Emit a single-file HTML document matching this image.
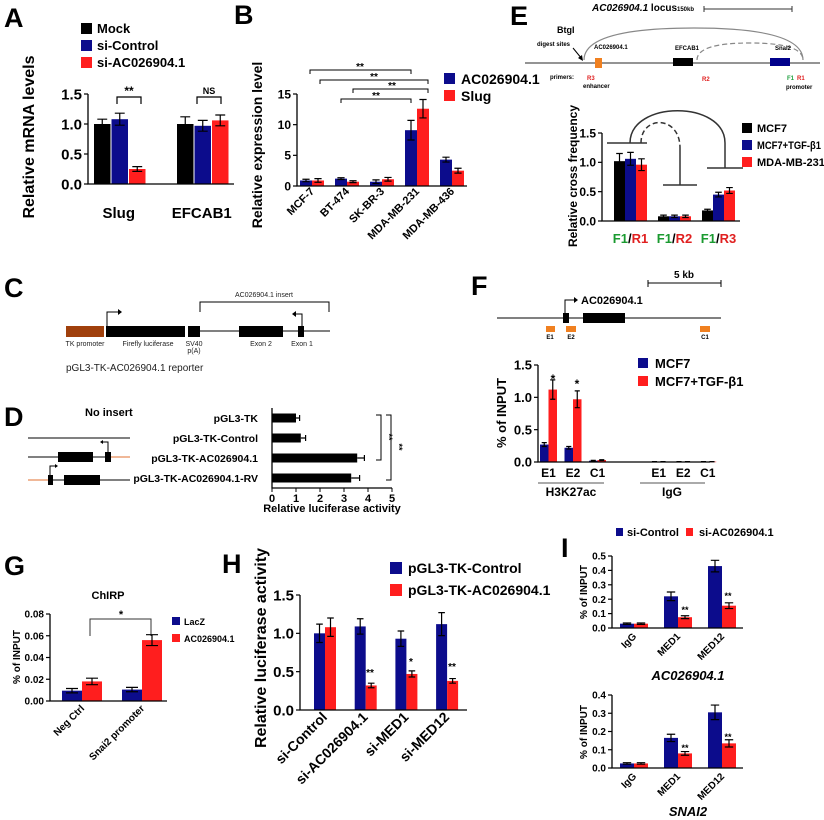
<!DOCTYPE html>
<html><head><meta charset="utf-8">
<style>
html,body{margin:0;padding:0;background:#fff;}
svg{display:block;font-family:"Liberation Sans",Arial,sans-serif;}
.b{font-weight:bold;}
</style></head>
<body>
<svg id="fig" width="824" height="820" viewBox="0 0 824 820" xmlns="http://www.w3.org/2000/svg">
<rect width="824" height="820" fill="#fff"/>
<!-- panel letters -->
<g class="b" font-size="27">
<text x="4" y="27">A</text>
<text x="234" y="24">B</text>
<text x="4" y="297">C</text>
<text x="4" y="426">D</text>
<text x="510" y="25">E</text>
<text x="471" y="295">F</text>
<text x="4" y="575">G</text>
<text x="222" y="573">H</text>
<text x="561" y="557">I</text>
</g>

<!-- A legend & annotations -->
<g class="b" font-size="13">
<rect x="81" y="23" width="11" height="11" fill="#000"/>
<text x="97" y="33">Mock</text>
<rect x="81" y="40" width="11" height="11" fill="#0c0c8c"/>
<text x="97" y="50">si-Control</text>
<rect x="81" y="57" width="11" height="11" fill="#ff1e1e"/>
<text x="97" y="67">si-AC026904.1</text>
</g>
<g stroke="#000" stroke-width="1.2" fill="none">
<path d="M117,104 V97 H141 V104"/><path d="M197,104 V97 H221 V104"/>
</g>
<text x="129" y="95" font-size="12" class="b" text-anchor="middle">**</text>
<text x="209" y="94" font-size="9" class="b" text-anchor="middle">NS</text>
<text transform="translate(34,137) rotate(-90)" font-size="16" class="b" text-anchor="middle">Relative mRNA levels</text>

<!-- B -->
<g stroke="#000" stroke-width="1" fill="none">
<path d="M310,74 V70 H411 V74"/><path d="M320,84 V80 H428 V84"/><path d="M353,93 V89 H428 V93"/><path d="M341,103 V99 H411 V103"/>
</g>
<g font-size="10" class="b" text-anchor="middle">
<text x="360" y="70">**</text><text x="374" y="80">**</text><text x="392" y="89">**</text><text x="376" y="99">**</text>
</g>
<text transform="translate(262,145) rotate(-90)" font-size="14" class="b" text-anchor="middle">Relative expression level</text>
<g class="b" font-size="14">
<rect x="444" y="73" width="11" height="11" fill="#0c0c8c"/>
<text x="461" y="84">AC026904.1</text>
<rect x="444" y="90" width="11" height="11" fill="#ff1e1e"/>
<text x="461" y="101">Slug</text>
</g>

<!-- C diagram -->
<g>
<line x1="200" y1="331" x2="330" y2="331" stroke="#000" stroke-width="1"/>
<rect x="66" y="326" width="38" height="11" fill="#a0400c"/>
<rect x="106" y="326" width="79" height="11" fill="#000"/>
<rect x="188" y="326" width="12" height="11" fill="#000"/>
<rect x="239" y="326" width="44" height="11" fill="#000"/>
<rect x="298" y="326" width="6" height="11" fill="#000"/>
<path d="M107,326 V312 H118" stroke="#000" fill="none"/><path d="M118,309 L122,312 L118,315Z"/>
<path d="M302,326 V314 H296" stroke="#000" fill="none"/><path d="M296,311 L292,314 L296,317Z"/>
<path d="M200,312 V302 H329 V312" stroke="#000" fill="none"/>
<g font-size="7" text-anchor="middle" fill="#222">
<text x="264" y="297">AC026904.1 insert</text>
<text x="85" y="346">TK promoter</text><text x="148" y="346">Firefly luciferase</text>
<text x="194" y="346">SV40</text><text x="194" y="353">p(A)</text>
<text x="261" y="346">Exon 2</text><text x="302" y="346">Exon 1</text>
</g>
<text x="66" y="371" font-size="10" fill="#222">pGL3-TK-AC026904.1 reporter</text>
</g>

<!-- D diagrams -->
<g>
<text x="85" y="416" font-size="11" class="b">No insert</text>
<line x1="28" y1="438" x2="130" y2="438" stroke="#000"/>
<line x1="28" y1="457" x2="110" y2="457" stroke="#000"/><line x1="110" y1="457" x2="130" y2="457" stroke="#e07030"/>
<rect x="58" y="452" width="35" height="10"/><rect x="105" y="452" width="6" height="10"/>
<path d="M108,452 V442 H103" stroke="#000" fill="none"/><path d="M103,440 L100,442 L103,444Z"/>
<line x1="28" y1="480" x2="48" y2="480" stroke="#e07030"/><line x1="48" y1="480" x2="130" y2="480" stroke="#000"/>
<rect x="48" y="475" width="5" height="10"/><rect x="64" y="475" width="36" height="10"/>
<path d="M50,475 V466 H55" stroke="#000" fill="none"/><path d="M55,464 L58,466 L55,468Z"/>
</g>
<g stroke="#000" fill="none">
<path d="M376,415 H381 V460 H376"/><path d="M386,415 H391 V480 H386"/>
</g>
<text transform="translate(386,437) rotate(90)" font-size="9" class="b" text-anchor="middle">**</text>
<text transform="translate(396,447) rotate(90)" font-size="9" class="b" text-anchor="middle">**</text>
<text x="332" y="512" font-size="11" class="b" text-anchor="middle">Relative luciferase activity</text>

<!-- E locus diagram -->
<g>
<text x="592" y="11" font-size="10" class="b"><tspan font-style="italic">AC026904.1</tspan> locus</text>
<text x="677" y="11" font-size="6" class="b">150kb</text>
<path d="M704,6 V12 M704,9 H792 M792,6 V12" stroke="#333" fill="none"/>
<text x="557" y="33" font-size="9" class="b">BtgI</text>
<text x="537" y="46" font-size="6" class="b">digest sites</text>
<path d="M573,48 L582,59" stroke="#000"/><path d="M583,61 L578,58 L582,55Z"/>
<line x1="525" y1="63" x2="820" y2="63" stroke="#555" stroke-width="1.3"/>
<path d="M584,60 Q584,28 694,28 Q803,28 803,60" stroke="#888" fill="none" stroke-width="1.2"/>
<path d="M697,60 Q697,43 750,43 Q803,43 803,60" stroke="#888" fill="none" stroke-width="1.2" stroke-dasharray="5,3"/>
<rect x="595" y="58" width="7" height="10" fill="#f08020"/>
<rect x="673" y="58" width="20" height="8" fill="#000"/>
<rect x="770" y="58" width="20" height="8" fill="#00008b"/>
<g font-size="6" class="b"><text x="594" y="49">AC026904.1</text><text x="675" y="50">EFCAB1</text><text x="775" y="50">Snai2</text>
<text x="550" y="79">primers:</text><text x="587" y="80" fill="#e02020">R3</text><text x="583" y="88">enhancer</text>
<text x="702" y="81" fill="#e02020">R2</text><text x="787" y="80" fill="#20a040">F1</text><text x="797" y="80" fill="#e02020">R1</text><text x="786" y="89">promoter</text></g>
</g>
<text transform="translate(577,176) rotate(-90)" font-size="12" class="b" text-anchor="middle">Relative cross frequency</text>
<g stroke="#333" stroke-width="1.5" fill="none">
<path d="M630,143 C630,100 725,100 725,143 V168"/>
<path d="M607,143 H647 M707,168 H743 M680,148 V185 M663,185 H697"/>
<path d="M641,143 C641,115 680,115 680,148" stroke-dasharray="5,3"/>
</g>
<g class="b" font-size="11">
<rect x="742" y="123" width="10" height="10" fill="#000"/><text x="757" y="132">MCF7</text>
<rect x="742" y="140" width="10" height="10" fill="#0c0c8c"/><text x="757" y="149" textLength="64" lengthAdjust="spacingAndGlyphs">MCF7+TGF-β1</text>
<rect x="742" y="157" width="10" height="10" fill="#ff1e1e"/><text x="757" y="166">MDA-MB-231</text>
</g>

<!-- F diagram -->
<g>
<path d="M648,280 V287 M648,283 H721 M721,280 V287" stroke="#000" fill="none"/>
<text x="684" y="278" font-size="10" class="b" text-anchor="middle">5 kb</text>
<line x1="497" y1="318" x2="721" y2="318" stroke="#000"/>
<rect x="563" y="313" width="6" height="10"/><rect x="583" y="313" width="42" height="10"/>
<path d="M565,313 V300 H574" stroke="#000" fill="none"/><path d="M574,297 L578,300 L574,303Z"/>
<text x="581" y="304" font-size="11" class="b">AC026904.1</text>
<rect x="546" y="326" width="9" height="6" fill="#f08020"/><rect x="566" y="326" width="10" height="6" fill="#f08020"/><rect x="700" y="326" width="10" height="6" fill="#f08020"/>
<g font-size="6" class="b" text-anchor="middle"><text x="550" y="339">E1</text><text x="571" y="339">E2</text><text x="705" y="339">C1</text></g>
</g>
<text transform="translate(506,413) rotate(-90)" font-size="13" class="b" text-anchor="middle">% of INPUT</text>
<g class="b">
<text x="553" y="383" font-size="12" text-anchor="middle">*</text><text x="577" y="388" font-size="12" text-anchor="middle">*</text>
<path d="M538,483 H604 M640,483 H705" stroke="#555"/>
<text x="571" y="496" font-size="12" text-anchor="middle">H3K27ac</text>
<text x="672" y="496" font-size="12" text-anchor="middle">IgG</text>
</g>
<g class="b" font-size="13">
<rect x="638" y="358" width="10" height="10" fill="#0c0c8c"/><text x="655" y="368">MCF7</text>
<rect x="638" y="376" width="10" height="10" fill="#ff1e1e"/><text x="655" y="386">MCF7+TGF-β1</text>
</g>

<!-- G -->
<text x="108" y="599" font-size="11" class="b" text-anchor="middle">ChIRP</text>
<path d="M90,636 V619 H151 V636" stroke="#333" fill="none"/>
<text x="121" y="618" font-size="11" class="b" text-anchor="middle">*</text>
<text transform="translate(20,657) rotate(-90)" font-size="10" class="b" text-anchor="middle">% of INPUT</text>
<g class="b" font-size="9">
<rect x="172" y="617" width="8" height="8" fill="#0c0c8c"/><text x="184" y="625">LacZ</text>
<rect x="172" y="634" width="8" height="8" fill="#ff1e1e"/><text x="184" y="642">AC026904.1</text>
</g>

<!-- H -->
<text transform="translate(266,648) rotate(-90)" font-size="16" class="b" text-anchor="middle">Relative luciferase activity</text>
<g class="b" font-size="14">
<rect x="390" y="562" width="12" height="12" fill="#0c0c8c"/><text x="408" y="573">pGL3-TK-Control</text>
<rect x="390" y="584" width="12" height="12" fill="#ff1e1e"/><text x="408" y="595">pGL3-TK-AC026904.1</text>
</g>
<g class="b" font-size="10" text-anchor="middle">
<text x="370" y="676">**</text><text x="411" y="665">*</text><text x="452" y="670">**</text>
</g>

<!-- I -->
<g class="b" font-size="11">
<rect x="616" y="528" width="7" height="8" fill="#0c0c8c"/><text x="627" y="536">si-Control</text>
<rect x="686" y="528" width="7" height="8" fill="#ff1e1e"/><text x="699" y="536">si-AC026904.1</text>
</g>
<text transform="translate(587,592) rotate(-90)" font-size="10" class="b" text-anchor="middle">% of INPUT</text>
<text transform="translate(587,732) rotate(-90)" font-size="10" class="b" text-anchor="middle">% of INPUT</text>
<text x="688" y="680" font-size="13" class="b" font-style="italic" text-anchor="middle">AC026904.1</text>
<text x="688" y="816" font-size="13" class="b" font-style="italic" text-anchor="middle">SNAI2</text>
<g class="b" font-size="9" text-anchor="middle">
<text x="685" y="613">**</text><text x="728" y="599">**</text><text x="685" y="751">**</text><text x="728" y="740">**</text>
</g>
</svg>
<script>
const BLUE='#0c0c8c', RED='#ff1e1e', BLACK='#000';
// ---- data ----
const catsA=['Slug','EFCAB1'];
const mockA=[1.0,1.0], mockErrA=[0.08,0.12];
const siCtrlA=[1.08,0.97], siCtrlErrA=[0.1,0.09];
const siAcA=[0.25,1.06], siAcErrA=[0.04,0.09];
const ticksA=[0,0.5,1.0,1.5];

const catsB=['MCF-7','BT-474','SK-BR-3','MDA-MB-231','MDA-MB-436'];
const acB=[0.9,1.2,0.7,9.1,4.3], acErrB=[0.2,0.15,0.3,1.6,0.4];
const slugB=[0.9,0.7,1.1,12.6,2.5], slugErrB=[0.3,0.15,0.3,1.5,0.4];
const ticksB=[0,5,10,15];

const catsD=['pGL3-TK','pGL3-TK-Control','pGL3-TK-AC026904.1','pGL3-TK-AC026904.1-RV'];
const valsD=[1.0,1.2,3.55,3.3], errsD=[0.15,0.2,0.3,0.35];
const ticksD=[0,1,2,3,4,5];

const catsE=['F1/R1','F1/R2','F1/R3'];
const mcf7E=[1.02,0.08,0.18], mcf7ErrE=[0.13,0.02,0.02];
const tgfE=[1.06,0.08,0.45], tgfErrE=[0.11,0.02,0.04];
const mdaE=[0.96,0.08,0.52], mdaErrE=[0.1,0.02,0.05];
const ticksE=[0,0.5,1.0,1.5];

const catsF=['E1','E2','C1','E1','E2','C1'];
const mcf7F=[0.27,0.22,0.02,0.005,0.005,0.005], mcf7ErrF=[0.03,0.02,0.005,0.002,0.002,0.002];
const tgfF=[1.12,0.97,0.03,0.005,0.005,0.005], tgfErrF=[0.15,0.13,0.005,0.002,0.002,0.002];
const ticksF=[0,0.5,1.0,1.5];

const catsG=['Neg Ctrl','Snai2 promoter'];
const laczG=[0.0095,0.0105], laczErrG=[0.002,0.002];
const acG=[0.018,0.056], acErrG=[0.003,0.005];
const ticksG=[0,0.02,0.04,0.06,0.08];

const catsH=['si-Control','si-AC026904.1','si-MED1','si-MED12'];
const ctrlH=[1.0,1.09,0.93,1.12], ctrlErrH=[0.12,0.1,0.1,0.15];
const acH=[1.08,0.32,0.47,0.38], acErrH=[0.12,0.03,0.04,0.03];
const ticksH=[0,0.5,1.0,1.5];

const catsI=['IgG','MED1','MED12'];
const ctrlI1=[0.03,0.22,0.43], ctrlErrI1=[0.005,0.03,0.04];
const acI1=[0.03,0.075,0.155], acErrI1=[0.005,0.01,0.02];
const ticksI1=[0,0.1,0.2,0.3,0.4,0.5];
const ctrlI2=[0.025,0.165,0.305], ctrlErrI2=[0.004,0.02,0.04];
const acI2=[0.025,0.08,0.135], acErrI2=[0.004,0.01,0.02];
const ticksI2=[0,0.1,0.2,0.3,0.4];

// ---- drawing ----
const svg=document.getElementById('fig');
const NS='http://www.w3.org/2000/svg';
function mk(tag,a,p){const e=document.createElementNS(NS,tag);for(const k in a)e.setAttribute(k,a[k]);(p||svg).appendChild(e);return e;}

function vchart(c){
  const g=mk('g',{});
  
  
  const y=v=>c.zeroY-v*c.ppu;
  c.series.forEach((s,si)=>{
    s.vals.forEach((v,i)=>{
      const x=c.xpos(i,si);
      const r=mk('rect',{x:x,y:y(v),width:c.barW,height:Math.max(0.5,v*c.ppu),fill:s.color},g);
      
      
      const e=s.errs[i], cx=x+c.barW/2, cap=c.barW*0.3;
      const eb=mk('path',{d:`M${cx-cap},${y(v+e)}H${cx+cap}M${cx},${y(v+e)}V${y(v-e)}M${cx-cap},${y(v-e)}H${cx+cap}`,stroke:'#000','stroke-width':1.2,fill:'none'},g);
      
      
    });
  });
  const top=y(c.ticks[c.ticks.length-1]);
  const ax=mk('path',{d:`M${c.axisX},${top}V${c.zeroY}H${c.axisEnd}`,stroke:'#000','stroke-width':1.3,fill:'none'},g);
  
  
  c.ticks.forEach(t=>{
    mk('line',{x1:c.axisX-4,x2:c.axisX,y1:y(t),y2:y(t),stroke:'#000','stroke-width':1.2},g);
    const tl=mk('text',{x:c.axisX-6,y:y(t)+c.tickSize*0.36,'font-size':c.tickSize,'font-weight':'bold','text-anchor':'end'},g);
    tl.textContent=c.fmt(t);
    
    
  });
  const n=c.series.length;
  c.cats.forEach((cat,i)=>{
    const cx=c.xpos(i,0)+n*c.barW/2;
    let t;
    if(c.rot){
      t=mk('text',{x:cx+3,y:c.labelY,'font-size':c.labelSize,'font-weight':'bold','text-anchor':'end',transform:`rotate(-45 ${cx+3} ${c.labelY})`},g);
    } else {
      t=mk('text',{x:cx,y:c.labelY,'font-size':c.labelSize,'font-weight':'bold','text-anchor':'middle'},g);
    }
    if(c.colorLabels){
      const parts=cat.split('/');
      const a=mk('tspan',{fill:'#1a9a30'},t);a.textContent=parts[0];
      const b=mk('tspan',{fill:'#000'},t);b.textContent='/';
      const d=mk('tspan',{fill:'#e02020'},t);d.textContent=parts[1];
    } else t.textContent=cat;
    
    
  });
}
const f1=v=>v.toFixed(1), f0=v=>String(v), f2=v=>v.toFixed(2);

vchart({name:'chart-a',cats:catsA,axisX:88,axisEnd:234,zeroY:184,ppu:60,ticks:ticksA,fmt:f1,tickSize:15,barW:16.5,
  xpos:(i,s)=>94+i*83+s*17.5,labelY:218,labelSize:15,rot:false,
  series:[{key:'mock',vals:mockA,errs:mockErrA,color:BLACK},{key:'si-control',vals:siCtrlA,errs:siCtrlErrA,color:BLUE},{key:'si-ac',vals:siAcA,errs:siAcErrA,color:RED}]});

vchart({name:'chart-b',cats:catsB,axisX:297,axisEnd:467,zeroY:186,ppu:92/15,ticks:ticksB,fmt:f0,tickSize:12,barW:12,
  xpos:(i,s)=>300+i*35+s*12,labelY:192,labelSize:11,rot:true,
  series:[{key:'ac026904',vals:acB,errs:acErrB,color:BLUE},{key:'slug',vals:slugB,errs:slugErrB,color:RED}]});

vchart({name:'chart-e',cats:catsE,axisX:602,axisEnd:740,zeroY:221,ppu:88/1.5,ticks:ticksE,fmt:f1,tickSize:12,barW:11,
  xpos:(i,s)=>614+i*44+s*11,labelY:243,labelSize:13,rot:false,colorLabels:true,
  series:[{key:'mcf7',vals:mcf7E,errs:mcf7ErrE,color:BLACK},{key:'mcf7-tgf',vals:tgfE,errs:tgfErrE,color:BLUE},{key:'mda',vals:mdaE,errs:mdaErrE,color:RED}]});

vchart({name:'chart-f',cats:catsF,axisX:538,axisEnd:710,zeroY:462,ppu:97/1.5,ticks:ticksF,fmt:f1,tickSize:13,barW:8.5,
  xpos:(i,s)=>540+(i<3?i:i+1.5)*24.5+s*8.5,labelY:477,labelSize:12,rot:false,
  series:[{key:'mcf7',vals:mcf7F,errs:mcf7ErrF,color:BLUE},{key:'mcf7-tgf',vals:tgfF,errs:tgfErrF,color:RED}]});

vchart({name:'chart-g',cats:catsG,axisX:50,axisEnd:167,zeroY:701,ppu:87/0.08,ticks:ticksG,fmt:f2,tickSize:10,barW:20,
  xpos:(i,s)=>62+i*60+s*20,labelY:709,labelSize:10,rot:true,
  series:[{key:'lacz',vals:laczG,errs:laczErrG,color:BLUE},{key:'ac026904',vals:acG,errs:acErrG,color:RED}]});

vchart({name:'chart-h',cats:catsH,axisX:300,axisEnd:467,zeroY:710,ppu:115/1.5,ticks:ticksH,fmt:f1,tickSize:15,barW:11,
  xpos:(i,s)=>314+i*40.7+s*11,labelY:718,labelSize:14,rot:true,
  series:[{key:'control',vals:ctrlH,errs:ctrlErrH,color:BLUE},{key:'ac026904',vals:acH,errs:acErrH,color:RED}]});

vchart({name:'chart-i1',cats:catsI,axisX:612,axisEnd:743,zeroY:628,ppu:144,ticks:ticksI1,fmt:f1,tickSize:10,barW:14,
  xpos:(i,s)=>620+i*44+s*14,labelY:637,labelSize:10,rot:true,
  series:[{key:'si-control',vals:ctrlI1,errs:ctrlErrI1,color:BLUE},{key:'si-ac',vals:acI1,errs:acErrI1,color:RED}]});

vchart({name:'chart-i2',cats:catsI,axisX:612,axisEnd:743,zeroY:768,ppu:73/0.4,ticks:ticksI2,fmt:f1,tickSize:10,barW:14,
  xpos:(i,s)=>620+i*44+s*14,labelY:777,labelSize:10,rot:true,
  series:[{key:'si-control',vals:ctrlI2,errs:ctrlErrI2,color:BLUE},{key:'si-ac',vals:acI2,errs:acErrI2,color:RED}]});

// horizontal chart D
(function(){
  const g=mk('g',{});
  
  
  const x0=272, ppu=24, axisY=488;
  const x=v=>x0+v*ppu;
  catsD.forEach((cat,i)=>{
    const cy=418+i*20;
    const r=mk('rect',{x:x0,y:cy-4.5,width:valsD[i]*ppu,height:9,fill:'#000'},g);
    
    
    const e=errsD[i];
    mk('path',{d:`M${x(valsD[i])},${cy}H${x(valsD[i]+e)}M${x(valsD[i]+e)},${cy-3}V${cy+3}`,stroke:'#000','stroke-width':1.2},g);
    const t=mk('text',{x:258,y:cy+4,'font-size':10.5,'font-weight':'bold','text-anchor':'end'},g);
    t.textContent=cat;
    
    
  });
  mk('path',{d:`M${x0},${408}V${axisY}H${x(5)}`,stroke:'#000','stroke-width':1.3,fill:'none'},g);
  ticksD.forEach(tk=>{
    mk('line',{x1:x(tk),x2:x(tk),y1:axisY,y2:axisY+4,stroke:'#000'},g);
    const t=mk('text',{x:x(tk),y:axisY+14,'font-size':11,'font-weight':'bold','text-anchor':'middle'},g);
    t.textContent=tk;
    
    
  });
})();
</script>
</body></html>
